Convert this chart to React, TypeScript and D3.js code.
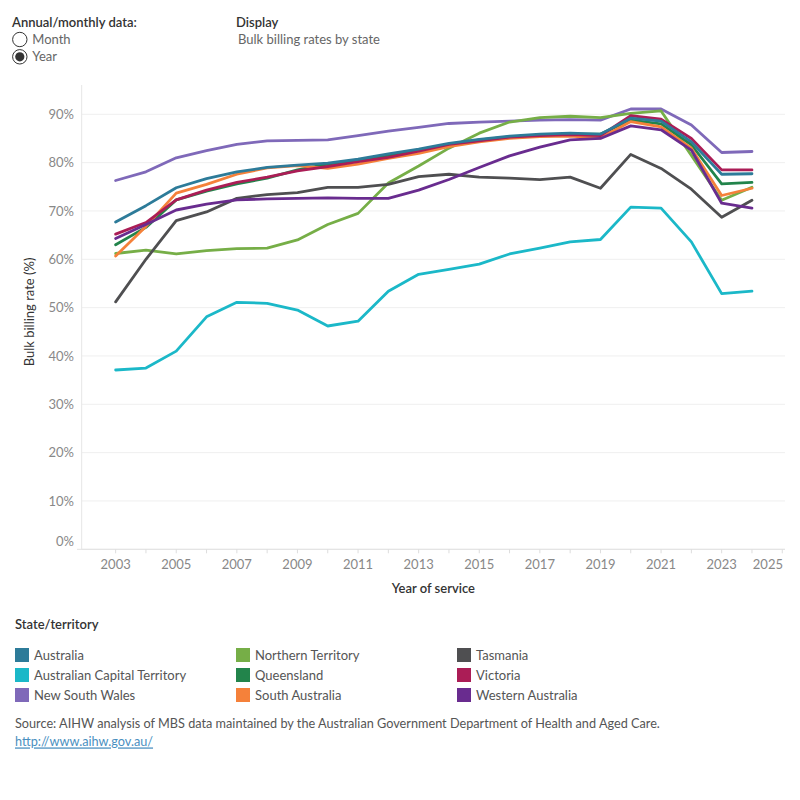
import * as d3 from 'd3';
import React from 'react';

const years = [
  2003, 2004, 2005, 2006, 2007, 2008, 2009, 2010, 2011, 2012, 2013,
  2014, 2015, 2016, 2017, 2018, 2019, 2020, 2021, 2022, 2023, 2024,
];

// bulk billing rate (%) by year of service
const australia = [67.7, 71.1, 74.8, 76.7, 78.1, 79.0, 79.5, 79.9, 80.7, 81.8, 82.8, 84.0, 84.8, 85.5, 85.9, 86.1, 85.9, 89.2, 88.6, 84.3, 77.6, 77.7];
const act = [37.1, 37.5, 41.0, 48.1, 51.1, 50.9, 49.5, 46.2, 47.2, 53.4, 56.9, 57.9, 59.0, 61.1, 62.3, 63.6, 64.1, 70.8, 70.6, 63.6, 52.9, 53.4];
const nsw = [76.3, 78.1, 81.0, 82.5, 83.8, 84.5, 84.6, 84.7, 85.6, 86.5, 87.3, 88.1, 88.4, 88.6, 88.8, 88.9, 88.8, 91.1, 91.1, 87.8, 82.1, 82.3];
const nt = [61.2, 61.9, 61.1, 61.8, 62.2, 62.3, 64.0, 67.2, 69.5, 75.8, 79.3, 83.0, 86.1, 88.4, 89.3, 89.6, 89.3, 90.2, 90.7, 81.5, 72.2, 74.9];
const qld = [63.0, 66.6, 72.3, 74.1, 75.6, 76.8, 78.5, 79.7, 80.5, 81.5, 82.6, 83.8, 84.7, 85.3, 85.7, 85.9, 85.9, 88.8, 88.0, 83.7, 75.6, 75.9];
const sa = [60.7, 66.8, 73.7, 75.5, 77.6, 78.9, 79.4, 78.8, 79.7, 80.9, 81.9, 83.3, 84.3, 85.0, 85.4, 85.5, 85.1, 88.5, 87.4, 83.0, 73.2, 74.7];
const tas = [51.2, 60.0, 68.0, 69.8, 72.6, 73.4, 73.8, 74.9, 74.9, 75.5, 77.1, 77.6, 77.0, 76.8, 76.5, 77.0, 74.7, 81.7, 78.8, 74.5, 68.7, 72.2];
const vic = [65.2, 67.6, 72.3, 74.3, 75.9, 77.0, 78.3, 79.2, 80.2, 81.1, 82.4, 83.8, 84.5, 85.3, 85.6, 85.8, 85.6, 89.7, 89.0, 85.0, 78.5, 78.5];
const wa = [64.3, 67.2, 70.2, 71.4, 72.3, 72.5, 72.6, 72.7, 72.6, 72.6, 74.3, 76.5, 79.0, 81.4, 83.2, 84.7, 85.0, 87.6, 86.8, 82.6, 71.6, 70.6];

const stateNames = [
  'Australia', 'Australian Capital Territory', 'New South Wales',
  'Northern Territory', 'Queensland', 'South Australia',
  'Tasmania', 'Victoria', 'Western Australia',
];
const stateValues = [australia, act, nsw, nt, qld, sa, tas, vic, wa];
const stateColors = [
  '#2d7b99', '#1bb8c8', '#7f69b9', '#76ae47', '#22844b', '#f5813a',
  '#4f4f51', '#ab1d56', '#692c8f',
];

const yTicks = [0, 10, 20, 30, 40, 50, 60, 70, 80, 90];
const xTickLabels = [2003, 2005, 2007, 2009, 2011, 2013, 2015, 2017, 2019, 2021, 2023, 2025];
const xTickMarks = [2003, 2004, 2005, 2006, 2007, 2008, 2009, 2010, 2011, 2012, 2013, 2014, 2015, 2016, 2017, 2018, 2019, 2020, 2021, 2022, 2023, 2024, 2025];

const width = 800;
const height = 790;
const font = 'Lato, sans-serif';
const fs = 13;

const paneLeft = 81.7;
const paneRight = 785;
const paneTop = 85;
const paneBottom = 549.3;

const x = d3.scaleLinear().domain([2001.88, 2025.09]).range([paneLeft, paneRight]);
const y = d3.scaleLinear().domain([0, 90]).range([paneBottom, 114.3]);

const line = d3
  .line<number>()
  .x((_, i) => x(years[i]))
  .y((d) => y(d));

// Australia is drawn last so it sits on top of the states
const drawOrder = [1, 2, 3, 4, 5, 6, 7, 8, 0];

function Radio({ cx, cy, label, checked }: { cx: number; cy: number; label: string; checked: boolean }) {
  return (
    <g>
      <circle cx={cx} cy={cy} r={7.2} fill="#fff" stroke="#333" strokeWidth={1} />
      {checked && <circle cx={cx} cy={cy} r={4.6} fill="#333" />}
      <text x={cx + 12.5} y={cy} dy="0.35em" fontSize={fs} fill="#666">
        {label}
      </text>
    </g>
  );
}

export default function App() {
  const legendCols = [15, 236, 457];
  const legendRows = [655, 675, 695];

  return (
    <svg width={width} height={height} viewBox={`0 0 ${width} ${height}`} style={{ display: 'block', margin: '-8px', fontFamily: font }}>
      <rect width={width} height={height} fill="#fff" />

      {/* controls */}
      <text x={12} y={22.5} dy="0.35em" fontSize={fs} fill="#333" fontWeight={600}>
        Annual/monthly data:
      </text>
      <Radio cx={19.8} cy={39.5} label="Month" checked={false} />
      <Radio cx={19.8} cy={56.8} label="Year" checked={true} />
      <text x={236} y={22.5} dy="0.35em" fontSize={fs} fill="#333" fontWeight={600}>
        Display
      </text>
      <text x={238} y={39.3} dy="0.35em" fontSize={fs} fill="#666">
        Bulk billing rates by state
      </text>

      {/* gridlines */}
      {yTicks.map((t) => (
        <line key={t} x1={paneLeft} x2={paneRight} y1={y(t)} y2={y(t)} stroke={t === 0 ? '#e3e3e3' : '#efefef'} strokeWidth={1} />
      ))}
      <line x1={paneLeft} x2={paneLeft} y1={paneTop} y2={paneBottom} stroke="#e6e6e6" />
      <line x1={77} x2={paneRight} y1={paneBottom} y2={paneBottom} stroke="#e3e3e3" />

      {/* y axis */}
      {yTicks.map((t) => (
        <text key={t} x={74} y={t === 0 ? y(t) - 8 : y(t)} dy="0.35em" textAnchor="end" fontSize={fs} fill="#888">
          {`${t}%`}
        </text>
      ))}
      <text transform={`translate(29,312) rotate(-90)`} textAnchor="middle" dy="0.35em" fontSize={fs} fill="#333">
        Bulk billing rate (%)
      </text>

      {/* x axis */}
      {xTickMarks.map((t) => (
        <line key={t} x1={x(t)} x2={x(t)} y1={paneBottom} y2={paneBottom + 4} stroke="#ddd" />
      ))}
      {xTickLabels.map((t, i) => {
        const last = i === xTickLabels.length - 1;
        return (
          <text key={t} x={last ? paneRight - 2 : x(t)} y={564.5} dy="0.35em" textAnchor={last ? 'end' : 'middle'} fontSize={fs} fill="#888">
            {t}
          </text>
        );
      })}
      <text x={(paneLeft + paneRight) / 2} y={588.5} dy="0.35em" textAnchor="middle" fontSize={fs} fill="#333" fontWeight={600}>
        Year of service
      </text>

      {/* lines */}
      {drawOrder.map((k) => (
        <path
          key={stateNames[k]}
          d={line(stateValues[k]) ?? ''}
          fill="none"
          stroke={stateColors[k]}
          strokeWidth={2.8}
          strokeLinejoin="round"
          strokeLinecap="round"
        />
      ))}

      {/* legend */}
      <text x={15} y={624} dy="0.35em" fontSize={fs} fill="#333" fontWeight={600}>
        State/territory
      </text>
      {stateNames.map((name, i) => {
        const cx = legendCols[Math.floor(i / 3)];
        const cy = legendRows[i % 3];
        return (
          <g key={name}>
            <rect x={cx} y={cy - 7} width={14} height={14} fill={stateColors[i]} />
            <text x={cx + 19} y={cy} dy="0.35em" fontSize={fs} fill="#555">
              {name}
            </text>
          </g>
        );
      })}

      {/* source */}
      <text x={15} y={724} dy="0.35em" fontSize={12.7} fill="#555">
        Source: AIHW analysis of MBS data maintained by the Australian Government Department of Health and Aged Care.
      </text>
      <text x={15} y={742} dy="0.35em" fontSize={12.7} fill="#4a8fbf" textDecoration="underline">
        http://www.aihw.gov.au/
      </text>
    </svg>
  );
}
